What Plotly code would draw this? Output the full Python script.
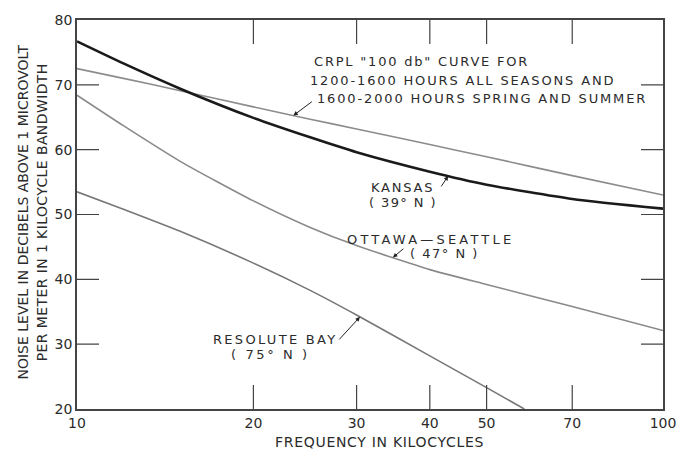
import numpy as np
import plotly.graph_objects as go

# Atmospheric noise level vs. frequency (dB above 1 µV/m in 1 kc bandwidth)
freq = [10, 12, 15, 20, 25, 30, 40, 50, 70, 100]
crpl = [72.5, 71.0, 69.1, 66.6, 64.7, 63.2, 60.8, 58.9, 56.0, 53.0]
kansas = [76.7, 73.3, 69.4, 64.9, 61.9, 59.6, 56.6, 54.6, 52.4, 50.9]
ottawa = [68.4, 63.7, 58.2, 52.1, 48.0, 45.2, 41.5, 39.2, 35.8, 32.1]
resolute_freq = [10, 12, 15, 20, 25, 30, 40, 50, 58]
resolute = [53.5, 50.8, 47.4, 42.5, 38.3, 34.5, 28.2, 23.3, 20.0]

x_ticks = [10, 20, 30, 40, 50, 70, 100]
y_ticks = [20, 30, 40, 50, 60, 70, 80]
x_inner = [20, 30, 40, 50, 70]          # ticks drawn along top and bottom
y_inner = [30, 40, 50, 60, 70]          # ticks drawn along left and right

# plot-area geometry in pixels (used only to place free text)
W, H = 688, 458
L, R, T, B = 77, 25, 15, 49
PW, PH = W - L - R, H - T - B


def px(x):
    return (x - L) / PW


def py(y):
    return (H - B - y) / PH


TXT = "#2b2b2b"
AX = "#444444"
FONT = "DejaVu Sans"


def spaced(s, sp):
    return f'<span style="letter-spacing:{sp}px">{s}</span>'


fig = go.Figure()
series = [
    (freq, crpl, "#8c8c8c", 1.6),
    (freq, ottawa, "#8a8a8a", 1.6),
    (resolute_freq, resolute, "#777777", 1.6),
    (freq, kansas, "#1a1a1a", 2.6),
]
for fx, fy, col, w in series:
    fig.add_trace(go.Scatter(x=fx, y=fy, mode="lines",
                             line=dict(color=col, width=w, shape="spline", smoothing=0.6),
                             hoverinfo="skip"))

# inward tick marks: half of each line marker is clipped by the plot frame
tick_len_x, tick_len_y = 24, 22
for yv in (y_ticks[0], y_ticks[-1]):
    fig.add_trace(go.Scatter(x=x_inner, y=[yv] * len(x_inner), mode="markers",
                             marker=dict(symbol="line-ns", size=tick_len_x / 0.7,
                                         line=dict(color=AX, width=1.2)),
                             cliponaxis=True, hoverinfo="skip"))
for xv in (x_ticks[0], x_ticks[-1]):
    fig.add_trace(go.Scatter(x=[xv] * len(y_inner), y=y_inner, mode="markers",
                             marker=dict(symbol="line-ew", size=tick_len_y / 0.7,
                                         line=dict(color=AX, width=1.2)),
                             cliponaxis=True, hoverinfo="skip"))


def on_curve(fx, fy, f):
    return float(np.interp(np.log10(f), np.log10(fx), fy))


# leader arrows pointing at each curve
leaders = [
    (freq, crpl, 23.4, 20, -15),
    (freq, kansas, 43.0, -8, 12),
    (freq, ottawa, 34.6, 12, -10),
    (resolute_freq, resolute, 30.4, -22, 24),
]
for fx, fy, f, ax, ay in leaders:
    fig.add_annotation(x=np.log10(f), y=on_curve(fx, fy, f), xref="x", yref="y",
                       text="", showarrow=True, ax=ax, ay=ay,
                       arrowhead=2, arrowsize=0.9, arrowwidth=1, arrowcolor="#222")

# (text, x px, y px, anchor, letter spacing)
labels = [
    ('CRPL "100 db" CURVE FOR', 312, 57, "left", 1.8),
    ("1200-1600 HOURS ALL SEASONS AND", 308, 76, "left", 1.85),
    ("1600-2000 HOURS SPRING AND SUMMER", 315, 95, "left", 1.85),
    ("KANSAS", 402, 185, "center", 1.8),
    ("( 39° N )", 403, 200, "center", 1.4),
    ("OTTAWA—SEATTLE", 430, 237, "center", 3.2),
    ("( 47° N )", 444, 252, "center", 1.5),
    ("RESOLUTE BAY", 275, 339, "center", 2.3),
    ("( 75° N )", 270, 354, "center", 2.6),
]
for txt, x, y, anc, sp in labels:
    fig.add_annotation(x=px(x), y=py(y), xref="paper", yref="paper", text=spaced(txt, sp),
                       showarrow=False, xanchor=anc, yanchor="middle",
                       font=dict(family=FONT, size=13, color=TXT))

# axis titles
fig.add_annotation(x=px(32), y=py(210), xref="paper", yref="paper",
                   text=spaced("NOISE LEVEL IN DECIBELS ABOVE 1 MICROVOLT", 0) + "<br>"
                   + spaced("PER METER IN 1 KILOCYCLE BANDWIDTH", 0.4),
                   textangle=-90, showarrow=False, xanchor="center", yanchor="middle",
                   font=dict(family=FONT, size=14, color=TXT))
fig.add_annotation(x=px(379), y=py(442), xref="paper", yref="paper",
                   text=spaced("FREQUENCY IN KILOCYCLES", 0.7), showarrow=False,
                   xanchor="center", yanchor="middle",
                   font=dict(family=FONT, size=14, color=TXT))

axis_common = dict(ticks="", showline=True, linecolor=AX, linewidth=1.6, mirror=True,
                   showgrid=False, zeroline=False,
                   tickfont=dict(family=FONT, size=14, color=TXT))
fig.update_xaxes(type="log", range=[1, 2], tickvals=x_ticks,
                 ticktext=[str(v) for v in x_ticks], **axis_common)
fig.update_yaxes(range=[20, 80], tickvals=y_ticks,
                 ticktext=[str(v) for v in y_ticks], **axis_common)

fig.update_layout(width=W, height=H, margin=dict(l=L, r=R, t=T, b=B),
                  paper_bgcolor="white", plot_bgcolor="white", showlegend=False)

fig.write_html("out.html")
